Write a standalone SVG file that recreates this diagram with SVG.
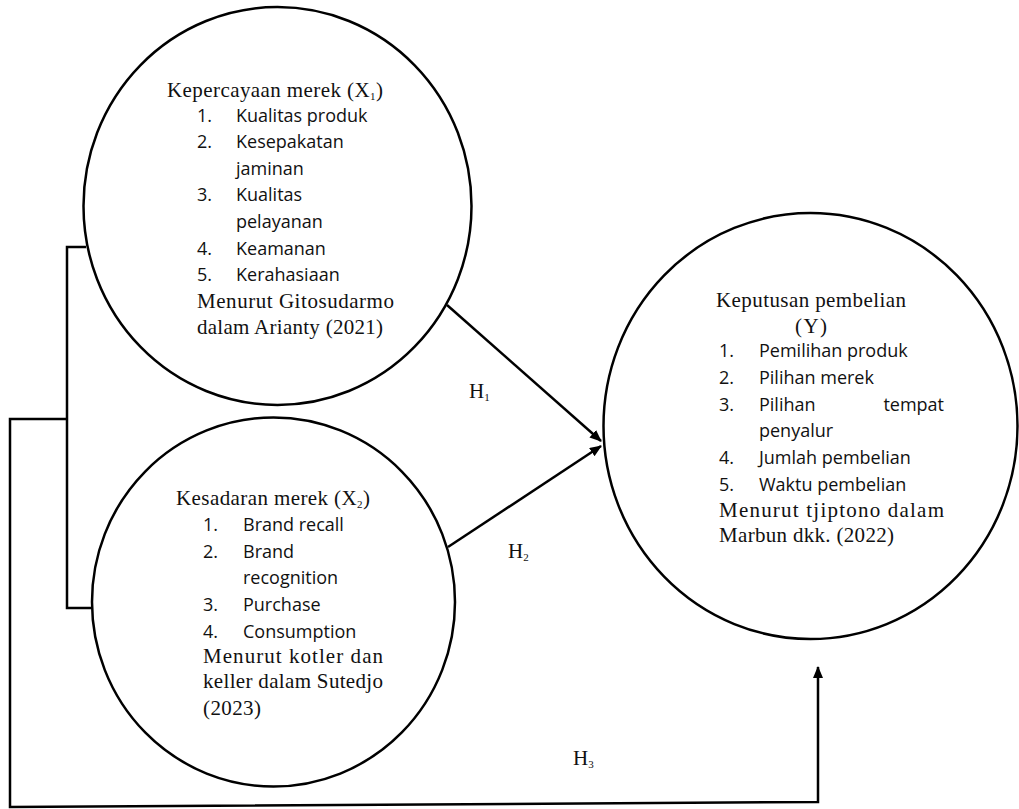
<svg xmlns="http://www.w3.org/2000/svg" width="1019" height="809" viewBox="0 0 1019 809">
<style>
.node{fill:#fff;stroke:#000;stroke-width:2.5}
.conn{fill:none;stroke:#000;stroke-width:2.5}
.serif{font-family:"Liberation Serif","Times New Roman",serif;font-size:21px;fill:#111}
.sans{font-family:"Open Sans","Noto Sans",sans-serif;font-size:18px;fill:#111}
.sub{font-size:11px}
</style>
<defs>
<marker id="arr" viewBox="0 0 12 10" refX="11" refY="5" markerWidth="12" markerHeight="10" markerUnits="userSpaceOnUse" orient="auto">
<path d="M0,0 L12,5 L0,10 z" fill="#000"/>
</marker>
</defs>
<rect width="1019" height="809" fill="#fff"/>
<g id="connectors">
<polyline class="conn" points="86,247 67,247 67,608 92,608"/>
<polyline class="conn" points="67,419 10,419 10,807 818,802 818,667" marker-end="url(#arr)"/>
<line class="conn" x1="447" y1="305" x2="601" y2="441" marker-end="url(#arr)"/>
<line class="conn" x1="448" y1="547" x2="601" y2="446" marker-end="url(#arr)"/>
</g>
<g id="labels">
<text class="serif" x="469" y="398">H<tspan class="sub" dy="3">1</tspan></text>
<text class="serif" x="508" y="558">H<tspan class="sub" dy="3">2</tspan></text>
<text class="serif" x="573" y="765">H<tspan class="sub" dy="3">3</tspan></text>
</g>
<g id="node-x1">
<ellipse class="node" cx="277.5" cy="206" rx="194" ry="199"/>
<text class="serif" x="167" y="97" textLength="216">Kepercayaan merek (X<tspan class="sub" dy="3">1</tspan><tspan dy="-3">)</tspan></text>
<text class="sans" x="197" y="122">1.</text><text class="sans" x="236" y="122">Kualitas produk</text>
<text class="sans" x="197" y="148">2.</text><text class="sans" x="236" y="148">Kesepakatan</text>
<text class="sans" x="236" y="175">jaminan</text>
<text class="sans" x="197" y="201">3.</text><text class="sans" x="236" y="201">Kualitas</text>
<text class="sans" x="236" y="228">pelayanan</text>
<text class="sans" x="197" y="255">4.</text><text class="sans" x="236" y="255">Keamanan</text>
<text class="sans" x="197" y="281">5.</text><text class="sans" x="236" y="281">Kerahasiaan</text>
<text class="serif" x="197" y="308" textLength="197">Menurut  Gitosudarmo</text>
<text class="serif" x="197" y="334" textLength="186">dalam Arianty (2021)</text>
</g>
<g id="node-x2">
<ellipse class="node" cx="273.5" cy="602" rx="181.5" ry="184.5"/>
<text class="serif" x="176" y="505" textLength="194">Kesadaran merek (X<tspan class="sub" dy="3">2</tspan><tspan dy="-3">)</tspan></text>
<text class="sans" x="203" y="531">1.</text><text class="sans" x="243" y="531">Brand recall</text>
<text class="sans" x="203" y="558">2.</text><text class="sans" x="243" y="558">Brand</text>
<text class="sans" x="243" y="584">recognition</text>
<text class="sans" x="203" y="611">3.</text><text class="sans" x="243" y="611">Purchase</text>
<text class="sans" x="203" y="638">4.</text><text class="sans" x="243" y="638">Consumption</text>
<text class="serif" x="203" y="663" textLength="180">Menurut  kotler  dan</text>
<text class="serif" x="203" y="688" textLength="180">keller dalam Sutedjo</text>
<text class="serif" x="203" y="715" textLength="58">(2023)</text>
</g>
<g id="node-y">
<ellipse class="node" cx="810.5" cy="426" rx="207" ry="213"/>
<text class="serif" x="716" y="307" textLength="190">Keputusan pembelian</text>
<text class="serif" x="795" y="333" textLength="32">(Y)</text>
<text class="sans" x="719" y="357">1.</text><text class="sans" x="759" y="357">Pemilihan produk</text>
<text class="sans" x="719" y="384">2.</text><text class="sans" x="759" y="384">Pilihan merek</text>
<text class="sans" x="719" y="411">3.</text><text class="sans" x="759" y="411">Pilihan</text><text class="sans" x="944" y="411" text-anchor="end">tempat</text>
<text class="sans" x="759" y="437">penyalur</text>
<text class="sans" x="719" y="464">4.</text><text class="sans" x="759" y="464">Jumlah pembelian</text>
<text class="sans" x="719" y="491">5.</text><text class="sans" x="759" y="491">Waktu pembelian</text>
<text class="serif" x="719" y="517" textLength="225">Menurut  tjiptono  dalam</text>
<text class="serif" x="719" y="542" textLength="175">Marbun dkk. (2022)</text>
</g>
</svg>
